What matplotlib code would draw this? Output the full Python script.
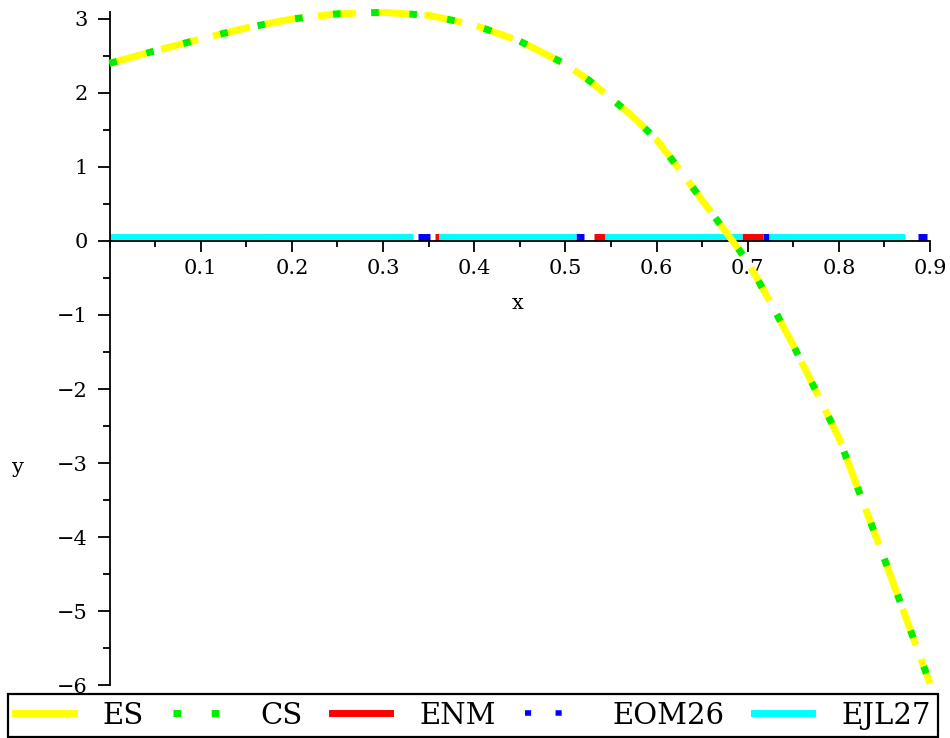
import matplotlib
matplotlib.use("Agg")
import matplotlib.pyplot as plt
import numpy as np
from matplotlib.lines import Line2D
from matplotlib.ticker import MultipleLocator

# ES / CS curve
curve_x = [0.0, 0.05, 0.1, 0.15, 0.2, 0.25, 0.3, 0.35, 0.4, 0.45,
           0.5, 0.525, 0.55, 0.575, 0.6, 0.625, 0.65, 0.675, 0.7, 0.725,
           0.75, 0.775, 0.8, 0.825, 0.85, 0.875, 0.9]
curve_y = [2.40, 2.57, 2.73, 2.88, 3.00, 3.07, 3.09, 3.05, 2.92, 2.70,
           2.39, 2.18, 1.93, 1.67, 1.37, 0.97, 0.55, 0.14, -0.28, -0.83,
           -1.41, -2.03, -2.66, -3.48, -4.30, -5.14, -5.98]

# flat error curves just above zero: visible (start, end) pieces
base_level = 0.05
ejl27_pieces = [(0.0, 0.333), (0.361, 0.512), (0.544, 0.694), (0.723, 0.873)]
enm_pieces = [(0.152, 0.170), (0.357, 0.361), (0.531, 0.544), (0.694, 0.717)]
eom26_pieces = [(0.170, 0.183), (0.338, 0.352), (0.512, 0.520), (0.717, 0.723), (0.887, 0.897)]

legend_labels = ["ES", "CS", "ENM", "EOM26", "EJL27"]
x_ticks = [0.1, 0.2, 0.3, 0.4, 0.5, 0.6, 0.7, 0.8, 0.9]
y_ticks = [-6, -5, -4, -3, -2, -1, 0, 1, 2, 3]

YELLOW = "#ffff00"
GREEN = "#00ee00"
RED = "#ff0000"
BLUE = "#0000ff"
CYAN = "#00ffff"
DOTS = (1.1, 4.4)


def pieces_to_xy(pieces, level):
    xs, ys = [], []
    for start, end in pieces:
        xs += [start, end, np.nan]
        ys += [level, level, np.nan]
    return xs, ys


plt.rcParams["font.family"] = "DejaVu Serif"

fig = plt.figure(figsize=(9.5, 7.38), dpi=100)
ax = fig.add_axes([0.1153, 0.0718, 0.8637, 0.9125])

for pieces, color in [(eom26_pieces, BLUE), (enm_pieces, RED), (ejl27_pieces, CYAN)]:
    xs, ys = pieces_to_xy(pieces, base_level)
    ax.plot(xs, ys, color=color, lw=5, solid_capstyle="butt", zorder=2)

ax.plot(curve_x, curve_y, color=YELLOW, lw=5, dashes=(5.5, 2.2), clip_on=False, zorder=3)
ax.plot(curve_x, curve_y, color=GREEN, lw=5, dashes=DOTS, clip_on=False, zorder=4)

ax.set_xlim(0, 0.9)
ax.set_ylim(-6, 3.1)
ax.spines["bottom"].set_position(("data", 0))
ax.spines["top"].set_visible(False)
ax.spines["right"].set_visible(False)
for sp in ("left", "bottom"):
    ax.spines[sp].set_linewidth(1.3)

ax.set_xticks(x_ticks)
ax.set_yticks(y_ticks)
ax.xaxis.set_minor_locator(MultipleLocator(0.05))
ax.yaxis.set_minor_locator(MultipleLocator(0.5))
ax.tick_params(axis="x", which="major", direction="out", length=8, width=1.3, pad=5, labelsize=15)
ax.tick_params(axis="x", which="minor", direction="out", length=4.5, width=1.3)
ax.tick_params(axis="y", which="major", direction="out", length=8.5, width=1.3, pad=7, labelsize=15)
ax.tick_params(axis="y", which="minor", direction="out", length=5, width=1.3)

ax.set_xlabel("x", fontsize=15)
ax.xaxis.set_label_coords(0.497, 0.58)
ax.set_ylabel("y", fontsize=15, rotation=0)
ax.yaxis.set_label_coords(-0.111, 0.309)

handles = [
    Line2D([], [], color=YELLOW, lw=5),
    Line2D([], [], color=GREEN, lw=5, dashes=DOTS),
    Line2D([], [], color=RED, lw=5),
    Line2D([], [], color=BLUE, lw=4, dashes=DOTS),
    Line2D([], [], color=CYAN, lw=5),
]
leg = fig.legend(handles, legend_labels, loc="lower left", ncol=5, mode="expand",
                 bbox_to_anchor=(0.0084, 0.0014, 0.979, 0.0555), borderaxespad=0,
                 fancybox=False, edgecolor="black", framealpha=1, fontsize=21,
                 handlelength=2.0, handletextpad=1.0, borderpad=0.25)
leg.get_frame().set_linewidth(1.6)

fig.savefig("out.png", dpi=100)
